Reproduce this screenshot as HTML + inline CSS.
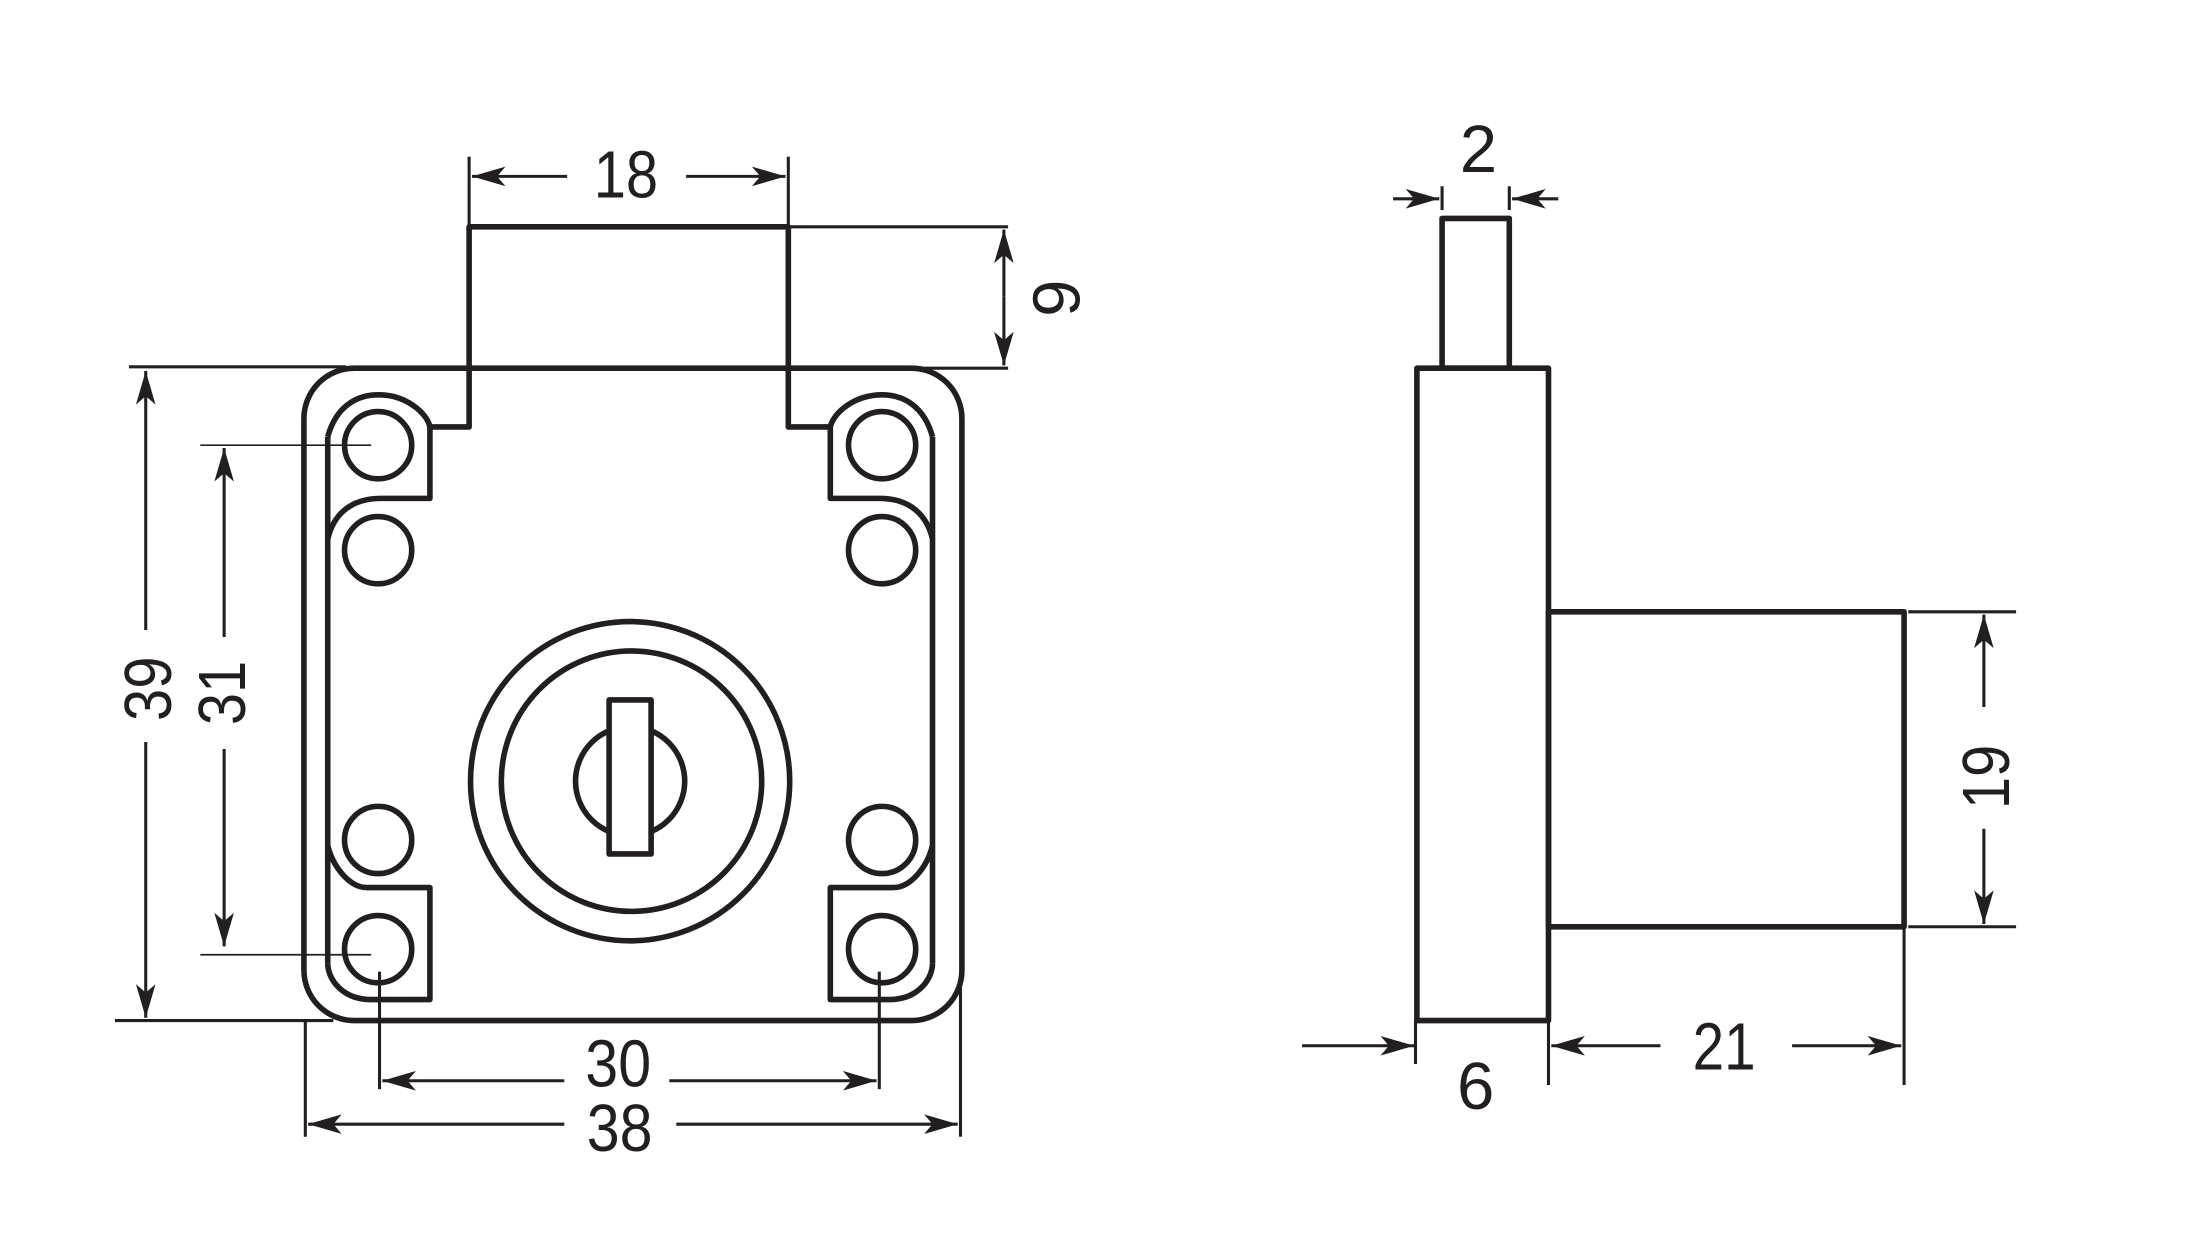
<!DOCTYPE html>
<html><head><meta charset="utf-8"><style>
html,body{margin:0;padding:0;background:#fff;}
svg{display:block;}
text{font-family:"Liberation Sans",Arial,sans-serif;font-size:48px;fill:#231f20;}
</style></head><body>
<svg width="2194" height="1251" viewBox="0 0 1567 893.6" xmlns="http://www.w3.org/2000/svg">
<defs>
<marker id="a" viewBox="0 0 24 14" refX="24" refY="7" markerWidth="24" markerHeight="14" markerUnits="userSpaceOnUse" orient="auto">
<path d="M0,0 L24,7 L0,14 L6,7 Z" fill="#231f20"/></marker>
</defs>
<g fill="none" stroke="#231f20" stroke-width="4" stroke-linejoin="round">
<rect x="217" y="263" width="470" height="466" rx="36"/>
<path d="M335,263 V162 H563 V263"/>
<path d="M234,312 V688"/>
<path d="M234,312 C240,290 255,282 270,282 C290,282 305,295 307,305 H335 V263"/>
<path d="M307,305 V356 H272 C250,356 238,368 234,385"/>
<path d="M234,604 C238,620 250,634 262,634 H307 V714 H265 C245,714 234,700 234,688"/>
<path d="M666,312 V688"/>
<path d="M666,312 C660,290 645,282 630,282 C610,282 595,295 593,305 H563 V263"/>
<path d="M593,305 V356 H628 C650,356 662,368 666,385"/>
<path d="M666,604 C662,620 650,634 638,634 H593 V714 H635 C655,714 666,700 666,688"/>
<circle cx="270" cy="318" r="24"/><circle cx="270" cy="393" r="24"/>
<circle cx="270" cy="600" r="24"/><circle cx="270" cy="678" r="24"/>
<circle cx="630" cy="318" r="24"/><circle cx="630" cy="393" r="24"/>
<circle cx="630" cy="600" r="24"/><circle cx="630" cy="678" r="24"/>
<circle cx="450" cy="558" r="114"/>
<circle cx="451" cy="558" r="93"/>
<circle cx="450" cy="558" r="39"/>
<rect x="435" y="500" width="30" height="110" fill="#fff"/>
<rect x="1030" y="156" width="48" height="107"/>
<rect x="1012" y="263" width="94" height="466"/>
<rect x="1106" y="437" width="254" height="225"/>
</g>
<g fill="none" stroke="#231f20" stroke-width="2.2">
<path d="M335,112 V162 M563,112 V162"/>
<path d="M405,126 H337" marker-end="url(#a)"/><path d="M490,126 H561" marker-end="url(#a)"/>
<path d="M563,162 H720 M563,263 H720"/>
<path d="M717,212 V164" marker-end="url(#a)"/><path d="M717,212 V261" marker-end="url(#a)"/>
<path d="M92,262 H247 M82,729 H238"/>
<path d="M104,450 V265" marker-end="url(#a)"/><path d="M104,530 V727" marker-end="url(#a)"/>
<path d="M143,318 H265 M143,682 H265" stroke-width="1.2"/>
<path d="M160,455 V320" marker-end="url(#a)"/><path d="M160,535 V676" marker-end="url(#a)"/>
<path d="M271,694 V778 M628,694 V778"/>
<path d="M403,772 H273" marker-end="url(#a)"/><path d="M478,772 H626" marker-end="url(#a)"/>
<path d="M218,729 V812 M686,700 V812"/>
<path d="M403,803 H220" marker-end="url(#a)"/><path d="M483,803 H684" marker-end="url(#a)"/>
<path d="M1030,133 V150 M1078,133 V150"/>
<path d="M995,142 H1028" marker-end="url(#a)"/><path d="M1113,142 H1080" marker-end="url(#a)"/>
<path d="M1363,437 H1440 M1363,662 H1440"/>
<path d="M1417,505 V439" marker-end="url(#a)"/><path d="M1417,592 V660" marker-end="url(#a)"/>
<path d="M1106,729 V775 M1360,662 V775 M1011,729 V760"/>
<path d="M930,747 H1010" marker-end="url(#a)"/>
<path d="M1186,747 H1108" marker-end="url(#a)"/><path d="M1280,747 H1358" marker-end="url(#a)"/>
</g>
<text x="424" y="141" textLength="46" lengthAdjust="spacingAndGlyphs">18</text>
<text transform="translate(771,213) rotate(-90)" text-anchor="middle">9</text>
<text transform="translate(122,515) rotate(-90)" textLength="46" lengthAdjust="spacingAndGlyphs">39</text>
<text transform="translate(175,518) rotate(-90)" textLength="46" lengthAdjust="spacingAndGlyphs">31</text>
<text x="418" y="776" textLength="47" lengthAdjust="spacingAndGlyphs">30</text>
<text x="419" y="822" textLength="47" lengthAdjust="spacingAndGlyphs">38</text>
<text x="1056" y="123" text-anchor="middle">2</text>
<text transform="translate(1435,578) rotate(-90)" textLength="46" lengthAdjust="spacingAndGlyphs">19</text>
<text x="1054" y="792" text-anchor="middle">6</text>
<text x="1209" y="764" textLength="45" lengthAdjust="spacingAndGlyphs">21</text>
</svg>
</body></html>
